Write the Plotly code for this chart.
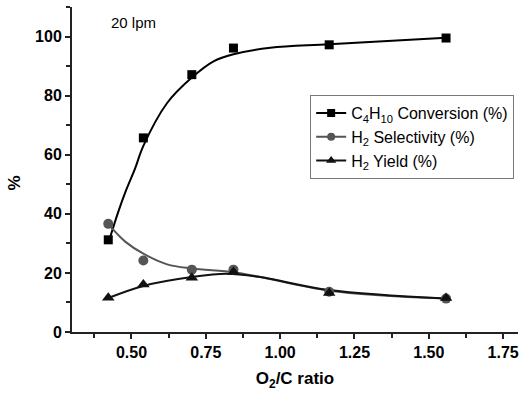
import plotly.graph_objects as go

# Measured data points
ratio = [0.422, 0.540, 0.703, 0.843, 1.165, 1.558]
conversion = [31.2, 65.7, 87.1, 96.1, 97.2, 99.5]
selectivity = [36.6, 24.2, 21.1, 21.1, 13.6, 11.3]
h2_yield = [11.6, 16.1, 18.4, 20.3, 13.2, 11.5]

# Fitted (smoothed) curves
conv_fit_x = [0.428, 0.455, 0.482, 0.512, 0.540, 0.620, 0.703, 0.776, 0.843, 0.967, 1.165, 1.558]
conv_fit_y = [32.0, 40.5, 48.0, 55.3, 63.0, 77.5, 86.1, 91.6, 94.0, 96.2, 97.4, 99.6]
sel_fit_x = [0.422, 0.480, 0.540, 0.620, 0.703, 0.843, 0.933, 1.165, 1.558]
sel_fit_y = [36.5, 30.5, 26.5, 22.9, 21.5, 20.2, 18.6, 14.0, 11.3]
yld_fit_x = [0.422, 0.540, 0.703, 0.820, 0.933, 1.165, 1.558]
yld_fit_y = [11.5, 15.6, 18.6, 19.7, 18.6, 14.2, 11.3]

series_names = ["C<sub>4</sub>H<sub>10</sub> Conversion (%)",
                "H<sub>2</sub> Selectivity (%)",
                "H<sub>2</sub> Yield (%)"]

BLACK = "#000000"
GREY = "#555555"
FONT = "Liberation Sans, Arial, sans-serif"

fig = go.Figure()

# fitted curves
fig.add_trace(go.Scatter(x=conv_fit_x, y=conv_fit_y, mode="lines", line=dict(color=BLACK, width=2, shape="spline"),
                         showlegend=False, hoverinfo="skip"))
fig.add_trace(go.Scatter(x=sel_fit_x, y=sel_fit_y, mode="lines", line=dict(color=GREY, width=2, shape="spline"),
                         showlegend=False, hoverinfo="skip"))
fig.add_trace(go.Scatter(x=yld_fit_x, y=yld_fit_y, mode="lines", line=dict(color="#111111", width=2, shape="spline"),
                         showlegend=False, hoverinfo="skip"))

# data markers
fig.add_trace(go.Scatter(x=ratio, y=conversion, mode="markers",
                         marker=dict(symbol="square", size=9, color=BLACK), showlegend=False))
fig.add_trace(go.Scatter(x=ratio, y=selectivity, mode="markers",
                         marker=dict(symbol="circle", size=10, color=GREY), showlegend=False))
fig.add_trace(go.Scatter(x=ratio, y=h2_yield, mode="markers",
                         marker=dict(symbol="triangle-up", size=11, color="#111111"), showlegend=False))

# legend entries
for name, sym, col, sz in [(series_names[0], "square", BLACK, 8),
                           (series_names[1], "circle", GREY, 8),
                           (series_names[2], "triangle-up", "#111111", 9)]:
    fig.add_trace(go.Scatter(x=[None], y=[None], mode="lines+markers", name=name,
                             line=dict(color=col, width=2), marker=dict(symbol=sym, size=sz, color=col)))

fig.update_layout(
    width=522, height=394,
    margin=dict(l=72, r=4, t=7, b=62),
    paper_bgcolor="white", plot_bgcolor="white",
    font=dict(family=FONT, color="black"),
    showlegend=True,
    legend=dict(x=0.534, y=0.729, xanchor="left", yanchor="top",
                bordercolor="#777777", borderwidth=1, bgcolor="white",
                font=dict(family=FONT, size=16, color="black"),
                tracegroupgap=0),
    xaxis=dict(range=[0.3, 1.8], tick0=0.5, dtick=0.25, tickformat=".2f", automargin=False,
               showline=True, linecolor="#222222", linewidth=2, mirror=False,
               ticks="outside", ticklen=5, tickwidth=1.5, tickcolor="#222222",
               minor=dict(dtick=0.125, ticks="outside", ticklen=4, tickwidth=1.5, tickcolor="#222222"),
               showgrid=False, zeroline=False,
               tickfont=dict(family=FONT, size=16, color="black", weight="bold"),
               title=dict(text="<b>O<sub>2</sub>/C ratio</b>", standoff=12,
                          font=dict(family=FONT, size=17, color="black"))),
    yaxis=dict(range=[0, 110], tick0=0, dtick=20, automargin=False,
               showline=True, linecolor="#222222", linewidth=2, mirror=False,
               ticks="outside", ticklen=5, tickwidth=1.5, tickcolor="#222222",
               minor=dict(dtick=10, ticks="outside", ticklen=4, tickwidth=1.5, tickcolor="#222222"),
               showgrid=False, zeroline=False,
               tickfont=dict(family=FONT, size=16, color="black", weight="bold")),
    annotations=[
        dict(text="20 lpm", xref="paper", yref="paper", x=(133 - 72) / 446, y=(332 - 23) / 325,
             xanchor="center", yanchor="middle", showarrow=False,
             font=dict(family=FONT, size=15, color="black")),
        dict(text="<b>%</b>", xref="paper", yref="paper", x=(13.5 - 72) / 446, y=(332 - 183) / 325,
             xanchor="center", yanchor="middle", showarrow=False, textangle=-90,
             font=dict(family=FONT, size=17, color="black")),
    ],
)

fig.write_html("out.html", config={"displayModeBar": False},
               post_script="document.body.style.margin='0';document.body.style.overflow='hidden';")
